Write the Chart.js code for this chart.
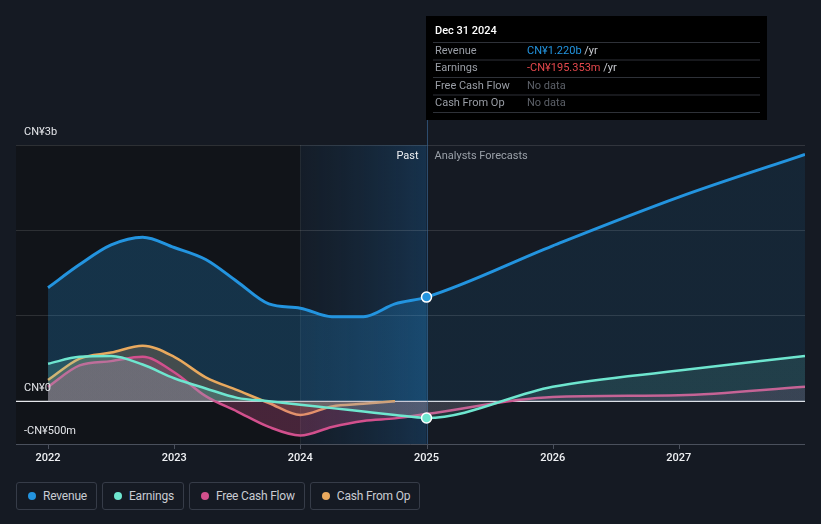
<!DOCTYPE html>
<html>
<head>
<meta charset="utf-8">
<script src="https://cdn.jsdelivr.net/npm/chart.js@4.4.1/dist/chart.umd.min.js"></script>
<style>
  html, body { margin: 0; padding: 0; background: #151a23; }
  body { width: 821px; height: 524px; position: relative; overflow: hidden; font-family: Roboto, "Open Sans", sans-serif; }
  #wrap { position: absolute; left: 0; top: 0; width: 821px; height: 470px; }
  .legend { position: absolute; top: 482px; left: 16px; display: flex; gap: 5px; }
  .legend div { height: 26px; border: 1px solid #363c48; border-radius: 3px; padding: 0 9px 0 26px; position: relative; color: #c9ccd2; font-size: 12px; line-height: 26px; letter-spacing: -0.2px; }
  .legend span { position: absolute; left: 11px; top: 9px; width: 8px; height: 8px; border-radius: 50%; }
</style>
</head>
<body>
<div id="wrap"><canvas id="chart"></canvas></div>
<div class="legend" id="legend"></div>
<script>
// time in decimal years, values in CN¥ billions
const years = [2022.0, 2022.25, 2022.5, 2022.75, 2023.0, 2023.25, 2023.5, 2023.75, 2024.0, 2024.25, 2024.5, 2024.75, 2025.0];
const forecastYears = [2026.0, 2027.0, 2028.0];

const revenuePast = [1.33, 1.60, 1.83, 1.92, 1.80, 1.66, 1.40, 1.14, 1.09, 0.99, 0.99, 1.14, 1.22];
const revenueForecast = [1.82, 2.39, 2.89];

const earningsPast = [0.44, 0.52, 0.53, 0.43, 0.27, 0.15, 0.04, 0.00, -0.04, -0.08, -0.12, -0.16, -0.195];
const earningsForecast = [0.17, 0.36, 0.53];

const fcfPast = [0.17, 0.42, 0.47, 0.52, 0.34, 0.06, -0.12, -0.30, -0.40, -0.30, -0.23, -0.20, -0.15];
const fcfForecast = [0.05, 0.07, 0.17];

const cfoYears = [2022.0, 2022.25, 2022.5, 2022.75, 2023.0, 2023.25, 2023.5, 2023.75, 2024.0, 2024.25, 2024.5, 2024.75];
const cfoPast = [0.25, 0.50, 0.57, 0.65, 0.52, 0.28, 0.13, -0.02, -0.16, -0.06, -0.03, 0.0];

const yTicks = [-0.5, 0, 1, 2, 3];
const yTickLabels = { '-0.5': '-CN¥500m', '0': 'CN¥0', '3': 'CN¥3b' };
const xTicks = [2022, 2023, 2024, 2025, 2026, 2027];
const pastEnd = 2025.0;
const highlightStart = 2024.0;

const tooltipDate = 'Dec 31 2024';
const tooltipRows = [
  ['Revenue', 'CN¥1.220b', '#2394df'],
  ['Earnings', '-CN¥195.353m', '#e5484d'],
  ['Free Cash Flow', null, null],
  ['Cash From Op', null, null]
];

const colors = {
  revenue: '#2394df',
  earnings: '#6ee6cf',
  fcf: '#d2508d',
  cfo: '#e9a95e'
};

function toPoints(xs, ys) {
  return xs.map((x, i) => ({ x: x, y: ys[i] }));
}

function splitFill(rgb, pastAlpha, futureAlpha) {
  return function(context) {
    const chart = context.chart;
    const area = chart.chartArea;
    if (!area) return 'rgba(' + rgb + ',' + futureAlpha + ')';
    const xs = chart.scales.x;
    const px = xs.getPixelForValue(pastEnd);
    const t = Math.min(1, Math.max(0, (px - area.left) / (area.right - area.left)));
    const g = chart.ctx.createLinearGradient(area.left, 0, area.right, 0);
    g.addColorStop(0, 'rgba(' + rgb + ',' + pastAlpha + ')');
    g.addColorStop(t, 'rgba(' + rgb + ',' + pastAlpha + ')');
    g.addColorStop(Math.min(1, t + 0.0001), 'rgba(' + rgb + ',' + futureAlpha + ')');
    g.addColorStop(1, 'rgba(' + rgb + ',' + futureAlpha + ')');
    return g;
  };
}

function markerRadius(markX) {
  return function(ctx) {
    return ctx.raw && ctx.raw.x === markX ? 5 : 0;
  };
}

const backdrop = {
  id: 'backdrop',
  beforeDraw(chart) {
    const { ctx, chartArea: a, scales: { x } } = chart;
    const x1 = x.getPixelForValue(highlightStart);
    const x2 = x.getPixelForValue(pastEnd);
    ctx.save();
    ctx.fillStyle = '#111419';
    ctx.fillRect(a.left, a.top, x1 - a.left, a.bottom - a.top);
    const g = ctx.createLinearGradient(x1, 0, x2, 0);
    g.addColorStop(0, 'rgba(20,36,52,0.35)');
    g.addColorStop(1, 'rgba(24,66,104,0.6)');
    ctx.fillStyle = g;
    ctx.fillRect(x1, a.top, x2 - x1, a.bottom - a.top);
    // faint line at start of highlight
    ctx.strokeStyle = 'rgba(255,255,255,0.07)';
    ctx.lineWidth = 1;
    ctx.beginPath();
    ctx.moveTo(Math.round(x1) + 0.5, a.top);
    ctx.lineTo(Math.round(x1) + 0.5, a.bottom);
    ctx.stroke();
    ctx.restore();
  },
  beforeDatasetsDraw(chart) {
    const { ctx, chartArea: a, scales: { x, y } } = chart;
    ctx.save();
    // zero line
    const y0 = y.getPixelForValue(0);
    ctx.strokeStyle = '#e6e8ec';
    ctx.lineWidth = 1.2;
    ctx.beginPath();
    ctx.moveTo(a.left, y0);
    ctx.lineTo(a.right, y0);
    ctx.stroke();
    // x axis line + ticks
    ctx.strokeStyle = '#4a505c';
    ctx.lineWidth = 1;
    ctx.beginPath();
    ctx.moveTo(a.left, a.bottom + 0.5);
    ctx.lineTo(a.right, a.bottom + 0.5);
    xTicks.forEach(v => {
      const px = Math.round(x.getPixelForValue(v)) + 0.5;
      ctx.moveTo(px, a.bottom);
      ctx.lineTo(px, a.bottom + 5);
    });
    ctx.stroke();
    // past / forecast divider
    const xp = Math.round(x.getPixelForValue(pastEnd)) + 0.5;
    ctx.strokeStyle = 'rgba(60,110,160,0.6)';
    ctx.beginPath();
    ctx.moveTo(xp, 16);
    ctx.lineTo(xp, a.bottom);
    ctx.stroke();
    ctx.restore();
  },
  afterDraw(chart) {
    const { ctx, chartArea: a, scales: { x, y } } = chart;
    ctx.save();
    ctx.font = '11px Roboto, sans-serif';
    ctx.textBaseline = 'middle';
    // y labels
    ctx.fillStyle = '#e4e6ea';
    ctx.textAlign = 'left';
    Object.keys(yTickLabels).forEach(k => {
      const py = y.getPixelForValue(parseFloat(k));
      ctx.fillText(yTickLabels[k], 24, py - 13);
    });
    // x labels
    ctx.font = '500 11px Roboto, sans-serif';
    ctx.textAlign = 'center';
    ctx.fillStyle = '#eef0f3';
    xTicks.forEach(v => ctx.fillText(String(v), x.getPixelForValue(v), a.bottom + 14));
    // past / forecast captions
    const xp = x.getPixelForValue(pastEnd);
    ctx.font = '11px Roboto, sans-serif';
    ctx.textAlign = 'right';
    ctx.fillStyle = '#eef0f3';
    ctx.fillText('Past', xp - 8, a.top + 11);
    ctx.textAlign = 'left';
    ctx.fillStyle = '#9aa0a8';
    ctx.fillText('Analysts Forecasts', xp + 8, a.top + 11);
    // tooltip box
    const bx = Math.round(xp) - 1, by = 16, bw = 341, bh = 104;
    ctx.fillStyle = '#000000';
    ctx.fillRect(bx, by, bw, bh);
    ctx.font = '500 11px Roboto, sans-serif';
    ctx.fillStyle = '#ffffff';
    ctx.fillText(tooltipDate, bx + 9, by + 15);
    ctx.strokeStyle = '#2e3138';
    ctx.lineWidth = 1;
    for (let i = 0; i < 5; i++) {
      const ly = by + 26.5 + i * 17.5;
      ctx.beginPath();
      ctx.moveTo(bx + 7, ly);
      ctx.lineTo(bx + bw - 7, ly);
      ctx.stroke();
    }
    ctx.font = '11px Roboto, sans-serif';
    tooltipRows.forEach((r, i) => {
      const ty = by + 35 + i * 17.5;
      ctx.fillStyle = '#9a9ea6';
      ctx.fillText(r[0], bx + 9, ty);
      if (r[1]) {
        ctx.fillStyle = r[2];
        ctx.fillText(r[1], bx + 101, ty);
        const w = ctx.measureText(r[1]).width;
        ctx.fillStyle = '#c9ccd2';
        ctx.fillText(' /yr', bx + 101 + w, ty);
      } else {
        ctx.fillStyle = '#5c6068';
        ctx.fillText('No data', bx + 101, ty);
      }
    });
    ctx.restore();
  }
};

const datasets = [
  {
    label: 'Revenue',
    data: toPoints(years.concat(forecastYears), revenuePast.concat(revenueForecast)),
    borderColor: colors.revenue,
    backgroundColor: splitFill('35,148,223', 0.24, 0.1),
    borderWidth: 3,
    fill: 'origin',
    pointRadius: markerRadius(pastEnd),
    pointBackgroundColor: colors.revenue,
    pointBorderColor: '#ffffff',
    pointBorderWidth: 1.5,
    order: 4
  },
  {
    label: 'Earnings',
    data: toPoints(years.concat(forecastYears), earningsPast.concat(earningsForecast)),
    borderColor: colors.earnings,
    backgroundColor: splitFill('110,230,207', 0.2, 0.13),
    borderWidth: 2.5,
    fill: 'origin',
    pointRadius: markerRadius(pastEnd),
    pointBackgroundColor: colors.earnings,
    pointBorderColor: '#ffffff',
    pointBorderWidth: 1.5,
    order: 1
  },
  {
    label: 'Free Cash Flow',
    data: toPoints(years.concat(forecastYears), fcfPast.concat(fcfForecast)),
    borderColor: colors.fcf,
    backgroundColor: splitFill('210,80,141', 0.28, 0.14),
    borderWidth: 2.5,
    fill: 'origin',
    pointRadius: 0,
    order: 2
  },
  {
    label: 'Cash From Op',
    data: toPoints(cfoYears, cfoPast),
    borderColor: colors.cfo,
    backgroundColor: 'rgba(233,169,94,0.22)',
    borderWidth: 2.5,
    fill: 'origin',
    pointRadius: 0,
    order: 3
  }
];

new Chart(document.getElementById('chart'), {
  type: 'line',
  data: { datasets: datasets },
  options: {
    responsive: true,
    maintainAspectRatio: false,
    animation: false,
    layout: { padding: { left: 16, right: 16, top: 145, bottom: 26 } },
    elements: { line: { cubicInterpolationMode: 'monotone' } },
    plugins: { legend: { display: false }, tooltip: { enabled: false } },
    scales: {
      x: {
        type: 'linear',
        min: 2021.746,
        max: 2028.0,
        grid: { display: false },
        border: { display: false },
        ticks: { display: false },
        afterFit: s => { s.height = 0; }
      },
      y: {
        min: -0.5,
        max: 3,
        afterBuildTicks: s => { s.ticks = yTicks.map(v => ({ value: v })); },
        grid: { color: ctx => ctx.tick && ctx.tick.value === 0 ? 'rgba(0,0,0,0)' : 'rgba(255,255,255,0.12)', drawTicks: false },
        border: { display: false },
        ticks: { display: false },
        afterFit: s => { s.width = 0; }
      }
    }
  },
  plugins: [backdrop]
});

// html legend
const legend = document.getElementById('legend');
datasets.forEach(d => {
  const item = document.createElement('div');
  const dot = document.createElement('span');
  dot.style.background = d.borderColor;
  item.appendChild(dot);
  item.appendChild(document.createTextNode(d.label));
  legend.appendChild(item);
});
</script>
</body>
</html>
